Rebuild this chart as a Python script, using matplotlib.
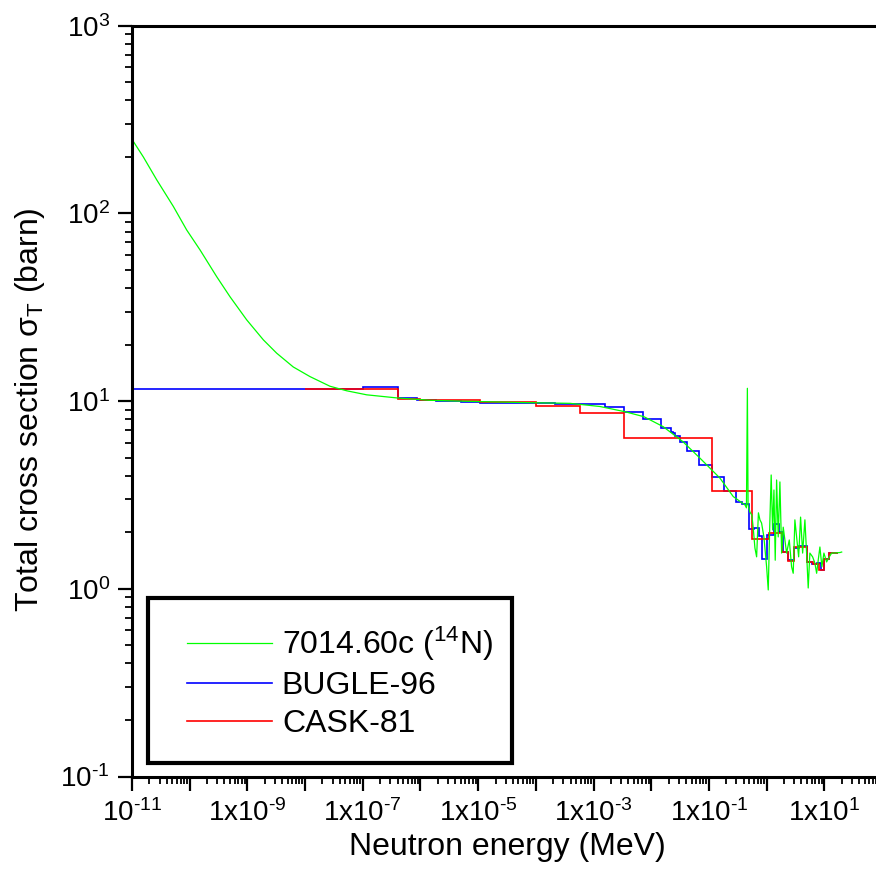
import matplotlib
matplotlib.use('Agg')
import matplotlib.pyplot as plt
from matplotlib.patches import Rectangle
import numpy as np

plt.rcParams['font.family'] = ['Liberation Sans', 'DejaVu Sans']
plt.rcParams['mathtext.fontset'] = 'custom'
plt.rcParams['mathtext.rm'] = 'Liberation Sans'
plt.rcParams['mathtext.it'] = 'Liberation Sans:italic'

# 7014.60c (14N) pointwise cross section
green_E = [1e-11, 1.57e-11, 2.68e-11, 5.2e-11, 8.87e-11, 1.51e-10, 2.94e-10, 4.99e-10,
           9.72e-10, 1.89e-9, 3.22e-9, 6.24e-9, 1.22e-8, 2.7e-8, 5.26e-8, 1.17e-7,
           3.87e-7, 1.46e-6, 4.84e-6, 5.3e-5, 3.9e-4, 1.29e-3, 3.5e-3, 7.46e-3,
           1.61e-2, 3.54e-2, 6.98e-2, 0.155, 0.264, 0.421,
           0.447, 0.464, 0.477, 0.514, 0.556, 0.590, 0.627, 0.671, 0.721, 0.766,
           0.818, 0.897, 1.0, 1.067, 1.14, 1.20, 1.27, 1.34, 1.41, 1.49,
           1.59, 1.70, 1.82, 1.94, 2.22, 2.47, 2.71, 2.89, 3.09, 3.31,
           3.59, 3.88, 4.21, 4.61, 4.93, 5.26, 5.62, 6.27, 6.87, 7.36,
           7.84, 8.39, 9.08, 9.84, 10.96, 12.2, 13.4, 14.7, 18.6, 20.0]
green_xs = [248, 200, 151, 109, 81.6, 63.9, 46.0, 36.0,
            27.1, 21.2, 18.0, 15.2, 13.5, 12.0, 11.35, 10.8,
            10.4, 10.1, 10.0, 9.83, 9.73, 9.36, 8.78, 8.26,
            7.31, 6.08, 4.97, 3.89, 3.10, 2.80,
            2.70, 11.7, 2.80, 2.56, 2.47, 2.06, 1.65, 1.48, 2.54, 2.33,
            2.24, 1.89, 1.31, 0.986, 2.33, 4.04, 2.06, 3.36, 1.42, 3.80,
            1.89, 3.71, 1.55, 2.13, 1.55, 1.82, 1.31, 1.21, 2.33, 1.89,
            1.48, 2.41, 1.55, 2.33, 1.55, 1.01, 1.55, 1.48, 1.37, 1.21,
            1.42, 1.67, 1.31, 1.55, 1.39, 1.48, 1.55, 1.55, 1.56, 1.57]

# BUGLE-96 group structure
blue_edges = [1e-11, 1e-7, 4.14e-7, 8.764e-7, 1.855e-6, 5.044e-6, 1.068e-5, 3.727e-5,
              1.013e-4, 2.145e-4, 4.54e-4, 1.585e-3, 3.355e-3, 7.102e-3, 1.503e-2,
              2.188e-2, 2.418e-2, 2.606e-2, 3.183e-2, 4.087e-2, 6.738e-2, 0.1111,
              0.1832, 0.2972, 0.3688, 0.4979, 0.6081, 0.7427, 0.8208, 1.003, 1.353,
              1.653, 1.920, 2.307, 3.012, 3.679, 4.966, 6.065, 7.408, 8.607, 10.0,
              12.21, 14.19, 17.33]
blue_xs = [11.56, 11.84, 10.35, 10.14, 9.97, 9.85, 9.80, 9.77, 9.73, 9.70, 9.61,
           9.34, 8.72, 8.0, 7.16, 6.87, 6.74, 6.52, 6.03, 5.42, 4.57, 3.93, 3.32,
           2.91, 2.82, 2.08, 2.10, 1.90, 1.45, 1.93, 2.21, 2.01, 1.58, 1.42, 1.64,
           1.69, 1.39, 1.35, 1.38, 1.26, 1.45, 1.55, 1.56]

# CASK-81 group structure
red_edges = [1e-8, 4.14e-7, 1.0e-6, 1.068e-5, 1.013e-4, 5.83e-4, 3.355e-3, 0.1111,
             0.5502, 1.108, 1.827, 2.354, 3.012, 4.966, 6.376, 8.187, 10.0, 12.21,
             14.92, 17.33]
red_xs = [11.56, 10.23, 10.10, 9.89, 9.41, 8.61, 6.34, 3.32, 1.84, 1.99, 1.58,
          1.41, 1.68, 1.39, 1.35, 1.26, 1.45, 1.55, 1.55]

labels = [r'7014.60c ($\mathregular{^{14}}$N)', 'BUGLE-96', 'CASK-81']

fig = plt.figure(figsize=(8.76, 8.83), dpi=100)
ax = fig.add_axes([132/876, 106.5/883, 750/876, 750.8/883])

l1, = ax.plot(green_E, green_xs, color='#00ff00', lw=0.9)
s2 = ax.stairs(blue_xs, blue_edges, baseline=None, color='#0000ff', lw=1.2)
s3 = ax.stairs(red_xs, red_edges, baseline=None, color='#ff0000', lw=1.2)

ax.set_xscale('log')
ax.set_yscale('log')
ax.set_xlim(1e-11, 1e2)
ax.set_ylim(0.1, 1000)

# hyphen instead of unicode minus, like the original
xt = [10.0**k for k in range(-11, 2)]
xl = []
for k in range(-11, 2):
    ks = str(k).replace('-', r'\text{-}')
    if k == -11:
        xl.append(r'$\mathregular{10^{%s}}$' % ks)
    elif (k + 11) % 2 == 0:
        xl.append(r'$\mathregular{1x10^{%s}}$' % ks)
    else:
        xl.append('')
ax.set_xticks(xt)
ax.set_xticklabels(xl)
ax.xaxis.set_minor_locator(matplotlib.ticker.LogLocator(base=10, subs=np.arange(2, 10), numticks=100))
ax.xaxis.set_minor_formatter(matplotlib.ticker.NullFormatter())

yt = [10.0**k for k in range(-1, 4)]
ax.set_yticks(yt)
ax.set_yticklabels([r'$\mathregular{10^{%s}}$' % str(k).replace('-', r'\text{-}') for k in range(-1, 4)])
ax.yaxis.set_minor_locator(matplotlib.ticker.LogLocator(base=10, subs=np.arange(2, 10), numticks=100))
ax.yaxis.set_minor_formatter(matplotlib.ticker.NullFormatter())

for s in ['left', 'bottom', 'top']:
    ax.spines[s].set_linewidth(2.2)
ax.spines['right'].set_visible(False)
ax.tick_params(which='major', direction='out', length=10, width=1.6, labelsize=20, pad=6,
               top=False, right=False)
ax.tick_params(which='minor', direction='out', length=5, width=1.3, top=False, right=False)

ax.set_xlabel('Neutron energy (MeV)', fontsize=23, labelpad=4)
ax.set_ylabel(r'Total cross section σ$_\mathregular{T}$ (barn)', fontsize=23)
ax.yaxis.set_label_coords(-0.113, 0.488)

# legend box drawn separately, entries without frame
box = Rectangle((148/876, 1 - 763/883), (512 - 148)/876, (763 - 598)/883,
                transform=fig.transFigure, fill=True, facecolor='white',
                edgecolor='black', lw=3, zorder=5)
ax.add_patch(box)
box.set_clip_on(False)
leg = ax.legend([l1, s2, s3], labels, loc='upper left',
                bbox_to_anchor=(187/876, 1 - 625/883), bbox_transform=fig.transFigure,
                fontsize=23, frameon=False,
                handlelength=2.66, handletextpad=0.31, labelspacing=0.25,
                borderpad=0, borderaxespad=0)
leg.set_zorder(6)

fig.savefig('out.png', dpi=100)
